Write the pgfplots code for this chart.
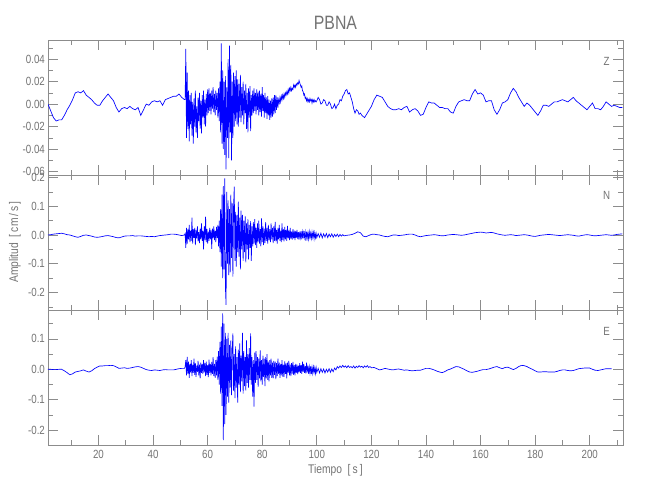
\documentclass[border=0pt]{standalone}
\usepackage{pgfplots}
\pgfplotsset{compat=1.18}
\usepackage{fontspec}
\setmainfont{Liberation Sans}[FakeStretch=0.82]
\definecolor{axgray}{RGB}{140,140,140}
\definecolor{txtgray}{RGB}{115,115,115}
\definecolor{seisblue}{RGB}{0,0,255}
\pgfplotsset{
  seis/.style={
    width=431.25pt, height=101.25pt, scale only axis,
    xmin=1.5, xmax=212.2,
    xtick={20,40,60,80,100,120,140,160,180,200},
    minor xtick={10,30,50,70,90,110,130,150,170,190,210},
    axis line style={axgray, line width=0.5pt},
    every tick/.style={axgray, line width=0.5pt},
    major tick length=7.5pt, minor tick length=3.75pt,
    tick align=inside,
    ticklabel style={font=\fontsize{8.9}{10}\selectfont, text=txtgray},
    /pgf/number format/assume math mode=true,
    yticklabel style={xshift=1.2pt},
    scaled y ticks=false,
  },
  sig/.style={seisblue, line width=0.5pt, mark=none}
}
\begin{document}
\begin{tikzpicture}
\useasboundingbox (0,0) rectangle (487.5pt,-375pt);
% ---------------- Z ----------------
\begin{axis}[seis, at={(36pt,-30pt)}, anchor=north west,
  ymin=-0.063, ymax=0.057,
  ytick={-0.06,-0.04,-0.02,0,0.02,0.04},
  minor ytick={-0.05,-0.03,-0.01,0.01,0.03,0.05},
  yticklabel style={/pgf/number format/.cd,fixed,fixed zerofill,precision=2},
  xticklabels={}]
\addplot[sig] coordinates {
(1.5,0.000)(2.5,-0.006)(3.5,-0.012)(4.5,-0.015)(5.5,-0.014)(6.5,-0.014)(7.5,-0.010)(8.5,-0.005)(9.5,-0.001)(10.5,0.004)
(11.5,0.010)(12.5,0.011)(13.5,0.010)(14.5,0.012)(15.5,0.008)(16.5,0.006)(17.5,0.004)(18.5,0.001)(19.5,-0.001)(20.5,-0.001)
(21.5,0.003)(22.5,0.006)(23.5,0.009)(24.5,0.006)(25.5,0.003)(26.5,-0.003)(27.5,-0.007)(28.5,-0.004)(29.5,-0.003)(30.5,-0.004)
(31.5,-0.002)(32.5,-0.004)(33.5,-0.005)(34.5,-0.003)(35.5,-0.010)(36.5,-0.005)(37.5,0.000)(38.5,-0.001)(39.5,0.002)(40.5,0.003)
(41.5,0.002)(42.5,0.003)(43.5,-0.001)(44.5,0.004)(45.5,0.005)(46.5,0.006)(47.5,0.007)(48.5,0.007)(49.5,0.009)(50.5,0.006)(51.5,0.004)
(51.75,0.004)(52,0.049)(52.25,-0.030)(52.5,0.028)(52.75,-0.022)(53,0.012)(53.25,-0.033)(53.5,0.008)(53.75,-0.018)
(54,0.010)(54.25,-0.028)(54.5,0.002)(54.75,-0.035)(55,0.005)(55.25,-0.020)(55.5,0.012)(55.75,-0.025)
(56,-0.002)(56.25,-0.030)(56.5,0.006)(56.75,-0.015)(57,0.010)(57.25,-0.022)(57.5,0.003)(57.75,-0.026)
(58,0.008)(58.25,-0.012)(58.5,0.012)(58.75,-0.018)(59,0.004)(59.25,-0.020)(59.5,0.009)(59.75,-0.010)
(60,0.013)(60.25,-0.008)(60.5,0.014)(60.75,-0.006)(61,0.010)(61.25,-0.009)(61.5,0.012)(61.75,-0.004)
(62,0.015)(62.25,-0.007)(62.5,0.009)(62.75,-0.010)(63,0.012)(63.25,-0.005)(63.5,0.010)(63.75,-0.012)
(64,0.014)(64.25,-0.015)(64.5,0.020)(64.75,-0.025)(65,0.054)(65.25,-0.035)(65.5,0.030)(65.75,-0.040)
(66,0.020)(66.25,-0.045)(66.5,0.025)(66.75,-0.058)(67,0.015)(67.25,-0.030)(67.5,0.040)(67.75,-0.048)
(68,0.052)(68.25,-0.025)(68.5,0.035)(68.75,-0.050)(69,0.020)(69.25,-0.030)(69.5,0.028)(69.75,-0.020)
(70,0.025)(70.25,-0.015)(70.5,0.030)(70.75,-0.018)(71,0.022)(71.25,-0.020)(71.5,0.018)(71.75,-0.012)
(72,0.026)(72.25,-0.016)(72.5,0.015)(72.75,-0.010)(73,0.020)(73.25,-0.018)(73.5,0.012)(73.75,-0.008)
(74,0.018)(74.25,-0.022)(74.5,0.010)(74.75,-0.025)(75,0.014)(75.25,-0.012)(75.5,0.016)(75.75,-0.024)
(76,0.008)(76.25,-0.010)(76.5,0.012)(76.75,-0.008)(77,0.014)(77.25,-0.006)(77.5,0.010)(77.75,-0.009)
(78,0.013)(78.25,-0.005)(78.5,0.011)(78.75,-0.010)(79,0.012)(79.25,-0.007)(79.5,0.009)(79.75,-0.011)
(80,0.015)(80.25,-0.006)(80.5,0.008)(80.75,-0.012)(81,0.010)(81.25,-0.008)(81.5,0.006)(81.75,-0.013)
(82,0.007)(82.25,-0.010)(82.5,0.004)(82.75,-0.014)(83,0.003)(83.25,-0.012)(83.5,0.005)(83.75,-0.011)
(84,0.006)(84.25,-0.009)(84.5,0.008)(84.75,-0.008)(85,0.008)(85.25,-0.005)(85.5,0.006)(85.75,-0.003)
(86,0.004)(86.25,0.001)(86.5,0.006)(86.75,0.002)(87,0.007)(87.25,0.004)(87.5,0.008)(87.75,0.005)
(88,0.009)(88.25,0.006)(88.5,0.010)(88.75,0.008)(89,0.011)(89.25,0.009)(89.5,0.013)(89.75,0.010)
(90,0.014)(90.25,0.012)(90.5,0.015)(90.75,0.012)(91,0.014)(91.25,0.013)(91.5,0.017)(91.75,0.015)
(92,0.017)(92.25,0.015)(92.5,0.018)(92.75,0.017)(93,0.019)(93.25,0.018)(93.5,0.021)(93.75,0.019)
(94,0.017)(94.25,0.015)(94.5,0.016)(94.75,0.012)(95,0.011)(95.25,0.008)(95.5,0.009)(95.75,0.005)
(96,0.006)(96.25,0.003)(96.5,0.005)(96.75,0.002)(97,0.004)(97.25,0.002)(97.5,0.005)(97.75,0.003)
(98,0.004)(98.25,0.001)(98.5,0.004)(98.75,0.002)(99,0.004)(99.25,0.002)(99.5,0.003)(99.75,0.002)(100,0.003)
(100.5,0.006)(101,0.004)(101.5,0.000)(102,0.001)(102.5,0.004)(103,0.003)(103.5,-0.001)(104,-0.001)(104.5,0.002)(105,0.000)
(105.5,-0.004)(106,-0.003)(106.5,0.000)(107,-0.004)(107.5,-0.001)(108,0.000)(108.5,0.004)(109,0.003)(109.5,0.007)(110,0.009)
(110.5,0.012)(111,0.013)(111.5,0.009)(112,0.010)(112.5,0.006)(113,0.002)(113.5,-0.004)(114,-0.008)(114.5,-0.005)(115,-0.006)
(115.5,-0.009)(116,-0.008)(116.5,-0.010)(117,-0.011)(117.5,-0.012)(118,-0.010)(118.5,-0.008)(119,-0.006)(119.5,-0.004)(120,-0.002)
(121,0.004)(122,0.008)(123,0.007)(124,0.006)(125,0.002)(126,-0.002)(127,-0.004)(128,-0.005)(129,-0.005)(130,-0.004)
(131,-0.005)(132,-0.003)(133,-0.002)(134,-0.007)(135,-0.005)(136,-0.004)(137,-0.006)(138,-0.010)(139,-0.009)(140,-0.003)
(141,0.002)(142,0.001)(143,0.001)(144,-0.001)(145,-0.003)(146,-0.003)(147,-0.004)(148,-0.004)(149,-0.007)(150,-0.008)
(151,-0.002)(152,0.002)(153,0.003)(154,0.004)(155,0.003)(156,0.003)(157,0.009)(158,0.013)(159,0.009)(160,0.010)
(161,0.008)(162,0.002)(163,0.003)(164,0.003)(165,-0.005)(166,-0.009)(167,-0.005)(168,0.001)(169,0.002)(170,0.004)
(171,0.010)(172,0.014)(173,0.011)(174,0.006)(175,0.002)(176,-0.002)(177,0.001)(178,-0.001)(179,-0.004)(180,-0.007)
(181,-0.010)(182,-0.006)(183,-0.001)(184,-0.001)(185,-0.002)(186,0.000)(187,0.002)(188,0.002)(189,0.003)(190,0.004)
(191,0.003)(192,0.002)(193,0.004)(194,0.006)(195,0.003)(196,0.001)(197,-0.001)(198,-0.003)(199,-0.005)(200,-0.002)
(201,0.001)(202,-0.004)(203,-0.004)(204,-0.005)(205,-0.002)(206,0.002)(207,0.000)(208,-0.002)(209,-0.001)(210,-0.002)
(211,-0.003)(212,-0.003)
};
\end{axis}
% ---------------- N ----------------
\begin{axis}[seis, at={(36pt,-131.25pt)}, anchor=north west,
  ymin=-0.261, ymax=0.2087,
  ytick={-0.2,-0.1,0,0.1,0.2},
  minor ytick={-0.25,-0.15,-0.05,0.05,0.15},
  yticklabel style={/pgf/number format/.cd,fixed,fixed zerofill,precision=1},
  xticklabels={}]
\addplot[sig] coordinates {
(1.5,0.000)(2.5,0.001)(3.5,0.003)(4.5,0.004)(5.5,0.005)(6.5,0.006)(7.5,0.004)(8.5,0.001)(9.5,0.000)(10.5,-0.003)
(11.5,-0.006)(12.5,-0.008)(13.5,-0.005)(14.5,-0.001)(15.5,0.000)(16.5,-0.002)(17.5,-0.004)(18.5,-0.007)(19.5,-0.008)(20.5,-0.007)
(21.5,-0.005)(22.5,-0.003)(23.5,-0.002)(24.5,-0.004)(25.5,-0.006)(26.5,-0.009)(27.5,-0.010)(28.5,-0.007)(29.5,-0.004)(30.5,-0.003)
(31.5,-0.003)(32.5,-0.002)(33.5,-0.004)(34.5,-0.003)(35.5,-0.003)(36.5,-0.004)(37.5,-0.005)(38.5,-0.006)(39.5,-0.005)(40.5,-0.006)
(41.5,-0.004)(42.5,-0.002)(43.5,-0.001)(44.5,0.000)(45.5,0.001)(46.5,0.003)(47.5,0.003)(48.5,0.002)(49.5,0.000)(50.5,-0.002)(51.5,0.000)
(51.75,0.005)(52,-0.045)(52.25,0.025)(52.5,-0.030)(52.75,0.020)(53,-0.015)(53.25,0.035)(53.5,-0.025)(53.75,0.015)
(54,-0.020)(54.25,0.060)(54.5,-0.030)(54.75,0.020)(55,-0.010)(55.25,0.025)(55.5,-0.035)(55.75,0.018)
(56,-0.012)(56.25,0.030)(56.5,-0.022)(56.75,0.010)(57,-0.028)(57.25,0.022)(57.5,-0.015)(57.75,0.040)
(58,-0.020)(58.25,0.015)(58.5,-0.050)(58.75,0.030)(59,-0.018)(59.25,0.064)(59.5,-0.025)(59.75,0.020)
(60,-0.030)(60.25,0.012)(60.5,-0.020)(60.75,0.025)(61,-0.015)(61.25,0.018)(61.5,-0.048)(61.75,0.022)
(62,-0.012)(62.25,0.030)(62.5,-0.018)(62.75,0.015)(63,-0.025)(63.25,0.028)(63.5,-0.010)(63.75,0.035)
(64,-0.040)(64.25,0.050)(64.5,-0.060)(64.75,0.090)(65,-0.110)(65.25,0.140)(65.5,-0.150)(65.75,0.170)
(66,-0.120)(66.25,0.197)(66.5,-0.180)(66.75,-0.243)(67,0.150)(67.25,-0.100)(67.5,0.120)(67.75,-0.140)
(68,0.090)(68.25,-0.130)(68.5,0.140)(68.75,-0.080)(69,0.110)(69.25,-0.145)(69.5,0.100)(69.75,0.168)
(70,-0.090)(70.25,0.080)(70.5,-0.110)(70.75,0.070)(71,-0.060)(71.25,0.116)(71.5,-0.075)(71.75,0.060)
(72,-0.120)(72.25,0.085)(72.5,-0.050)(72.75,0.070)(73,-0.090)(73.25,0.050)(73.5,-0.060)(73.75,0.065)
(74,-0.095)(74.25,0.040)(74.5,-0.050)(74.75,0.055)(75,-0.085)(75.25,0.035)(75.5,-0.045)(75.75,0.048)
(76,-0.090)(76.25,0.030)(76.5,-0.040)(76.75,0.045)(77,-0.030)(77.25,0.055)(77.5,-0.035)(77.75,0.025)
(78,-0.045)(78.25,0.040)(78.5,-0.025)(78.75,0.050)(79,-0.030)(79.25,0.020)(79.5,-0.040)(79.75,0.058)
(80,-0.025)(80.25,0.030)(80.5,-0.035)(80.75,0.022)(81,-0.028)(81.25,0.045)(81.5,-0.020)(81.75,0.025)
(82,-0.030)(82.25,0.035)(82.5,-0.018)(82.75,0.020)(83,-0.025)(83.25,0.040)(83.5,-0.015)(83.75,0.025)
(84,-0.028)(84.25,0.030)(84.5,-0.020)(84.75,0.046)(85,-0.022)(85.25,0.018)(85.5,-0.030)(85.75,0.025)
(86,-0.015)(86.25,0.035)(86.5,-0.020)(86.75,0.015)(87,-0.025)(87.25,0.040)(87.5,-0.018)(87.75,0.020)
(88,-0.022)(88.25,0.028)(88.5,-0.015)(88.75,0.018)(89,-0.020)(89.25,0.032)(89.5,-0.012)(89.75,0.015)
(90,-0.018)(90.25,0.025)(90.5,-0.014)(90.75,0.012)(91,-0.016)(91.25,0.020)(91.5,-0.012)(91.75,0.015)
(92,-0.018)(92.25,0.014)(92.5,-0.010)(92.75,0.018)(93,-0.014)(93.25,0.010)(93.5,-0.016)(93.75,0.012)
(94,-0.009)(94.25,0.014)(94.5,-0.015)(94.75,0.010)(95,-0.012)(95.25,0.015)(95.5,-0.008)(95.75,0.010)
(96,-0.020)(96.25,0.012)(96.5,-0.010)(96.75,0.008)(97,-0.014)(97.25,0.011)(97.5,-0.009)(97.75,0.007)
(98,-0.012)(98.25,0.010)(98.5,-0.008)(98.75,0.009)(99,-0.013)(99.25,0.008)(99.5,-0.010)(99.75,0.006)(100,-0.009)
(100.5,0.005)(101,-0.008)(101.5,0.006)(102,-0.010)(102.5,0.004)(103,-0.007)(103.5,0.005)(104,-0.009)(104.5,0.003)(105,-0.006)
(105.5,0.004)(106,-0.008)(106.5,0.002)(107,-0.005)(107.5,0.003)(108,-0.006)(108.5,0.002)(109,-0.004)(109.5,0.001)(110,-0.003)
(111,-0.001)(112,0.000)(113,0.002)(114,0.006)(115,0.011)(116,0.008)(117,-0.004)(118,-0.006)(119,-0.002)(120,0.002)
(121,0.003)(122,0.001)(123,0.000)(124,-0.003)(125,-0.005)(126,-0.006)(127,-0.003)(128,0.000)(129,0.000)(130,-0.002)
(131,-0.001)(132,0.000)(133,0.002)(134,0.003)(135,0.003)(136,0.000)(137,-0.004)(138,-0.006)(139,-0.004)(140,-0.002)
(141,-0.001)(142,0.000)(143,0.001)(144,0.000)(145,-0.002)(146,-0.003)(147,-0.002)(148,0.000)(149,0.001)(150,0.002)
(151,0.001)(152,0.000)(153,-0.001)(154,0.000)(155,0.002)(156,0.004)(157,0.006)(158,0.008)(159,0.009)(160,0.010)
(161,0.009)(162,0.007)(163,0.008)(164,0.009)(165,0.007)(166,0.004)(167,0.002)(168,0.000)(169,-0.001)(170,0.000)
(171,0.001)(172,0.000)(173,-0.002)(174,-0.001)(175,0.000)(176,0.001)(177,0.000)(178,-0.002)(179,-0.004)(180,-0.005)
(181,-0.003)(182,-0.001)(183,0.000)(184,0.001)(185,0.002)(186,0.001)(187,0.000)(188,-0.001)(189,-0.002)(190,-0.001)
(191,0.000)(192,0.001)(193,0.000)(194,-0.001)(195,-0.003)(196,-0.004)(197,-0.002)(198,0.000)(199,0.001)(200,0.000)
(201,-0.002)(202,-0.003)(203,-0.002)(204,-0.001)(205,0.000)(206,0.001)(207,0.000)(208,-0.001)(209,0.000)(210,0.002)
(211,0.003)(212,0.004)
};
\end{axis}
% ---------------- E ----------------
\begin{axis}[seis, at={(36pt,-232.5pt)}, anchor=north west,
  ymin=-0.249, ymax=0.195,
  ytick={-0.2,-0.1,0,0.1},
  minor ytick={-0.15,-0.05,0.05,0.15},
  yticklabel style={/pgf/number format/.cd,fixed,fixed zerofill,precision=1}]
\addplot[sig] coordinates {
(1.5,0.000)(2.5,0.000)(3.5,-0.001)(4.5,-0.001)(5.5,0.000)(6.5,0.000)(7.5,-0.005)(8.5,-0.011)(9.5,-0.018)(10.5,-0.015)
(11.5,-0.009)(12.5,-0.007)(13.5,-0.005)(14.5,-0.002)(15.5,-0.006)(16.5,-0.009)(17.5,-0.005)(18.5,0.002)(19.5,0.007)(20.5,0.011)
(21.5,0.011)(22.5,0.012)(23.5,0.012)(24.5,0.013)(25.5,0.012)(26.5,0.008)(27.5,0.003)(28.5,0.004)(29.5,0.005)(30.5,0.003)
(31.5,0.004)(32.5,0.006)(33.5,0.008)(34.5,0.009)(35.5,0.007)(36.5,0.003)(37.5,-0.001)(38.5,-0.003)(39.5,-0.004)(40.5,-0.002)
(41.5,-0.003)(42.5,-0.004)(43.5,-0.002)(44.5,-0.001)(45.5,-0.002)(46.5,-0.002)(47.5,-0.002)(48.5,0.000)(49.5,0.002)(50.5,0.003)(51.5,0.003)
(51.75,0.008)(52,0.030)(52.25,-0.020)(52.5,0.041)(52.75,-0.015)(53,0.025)(53.25,-0.028)(53.5,0.018)(53.75,-0.010)
(54,0.030)(54.25,-0.022)(54.5,0.015)(54.75,-0.012)(55,0.035)(55.25,-0.018)(55.5,0.020)(55.75,-0.025)
(56,0.012)(56.25,-0.008)(56.5,0.028)(56.75,-0.020)(57,0.015)(57.25,-0.030)(57.5,0.022)(57.75,-0.012)
(58,0.018)(58.25,-0.015)(58.5,0.030)(58.75,-0.010)(59,0.020)(59.25,-0.022)(59.5,0.025)(59.75,-0.018)
(60,0.014)(60.25,-0.026)(60.5,0.032)(60.75,-0.012)(61,0.018)(61.25,-0.020)(61.5,0.024)(61.75,-0.015)
(62,0.040)(62.25,-0.022)(62.5,0.018)(62.75,-0.028)(63,0.030)(63.25,-0.020)(63.5,0.042)(63.75,-0.035)
(64,0.060)(64.25,-0.050)(64.5,0.090)(64.75,-0.080)(65,0.140)(65.25,-0.120)(65.5,0.184)(65.75,-0.233)
(66,0.150)(66.25,-0.180)(66.5,0.120)(66.75,-0.150)(67,0.100)(67.25,-0.090)(67.5,0.120)(67.75,-0.110)
(68,0.080)(68.25,-0.060)(68.5,0.095)(68.75,-0.085)(69,0.060)(69.25,0.118)(69.5,-0.070)(69.75,0.050)
(70,-0.095)(70.25,0.075)(70.5,-0.060)(70.75,0.040)(71,-0.110)(71.25,0.065)(71.5,-0.050)(71.75,0.085)
(72,-0.075)(72.25,0.045)(72.5,-0.040)(72.75,0.120)(73,-0.080)(73.25,0.060)(73.5,-0.055)(73.75,0.040)
(74,-0.070)(74.25,0.095)(74.5,-0.045)(74.75,0.050)(75,-0.060)(75.25,0.070)(75.5,-0.035)(75.75,0.118)
(76,-0.050)(76.25,0.040)(76.5,-0.090)(76.75,0.030)(77,-0.123)(77.25,0.055)(77.5,-0.045)(77.75,0.060)
(78,-0.035)(78.25,0.040)(78.5,-0.058)(78.75,0.035)(79,-0.030)(79.25,0.062)(79.5,-0.040)(79.75,0.030)
(80,-0.050)(80.25,0.045)(80.5,-0.025)(80.75,0.035)(81,-0.055)(81.25,0.040)(81.5,-0.030)(81.75,0.050)
(82,-0.035)(82.25,0.025)(82.5,-0.040)(82.75,0.030)(83,-0.020)(83.25,0.035)(83.5,-0.028)(83.75,0.022)
(84,-0.030)(84.25,0.028)(84.5,-0.018)(84.75,0.025)(85,-0.032)(85.25,0.020)(85.5,-0.022)(85.75,0.035)
(86,-0.015)(86.25,0.022)(86.5,-0.028)(86.75,0.018)(87,-0.020)(87.25,0.030)(87.5,-0.024)(87.75,0.015)
(88,-0.025)(88.25,0.026)(88.5,-0.015)(88.75,0.020)(89,-0.030)(89.25,0.022)(89.5,-0.012)(89.75,0.028)
(90,-0.020)(90.25,0.015)(90.5,-0.022)(90.75,0.020)(91,-0.014)(91.25,0.024)(91.5,-0.018)(91.75,0.014)
(92,-0.020)(92.25,0.018)(92.5,-0.012)(92.75,0.015)(93,-0.016)(93.25,0.012)(93.5,-0.010)(93.75,0.020)
(94,-0.012)(94.25,0.014)(94.5,-0.015)(94.75,0.025)(95,-0.008)(95.25,0.018)(95.5,-0.012)(95.75,0.010)
(96,-0.014)(96.25,0.022)(96.5,-0.010)(96.75,0.012)(97,-0.015)(97.25,0.008)(97.5,-0.012)(97.75,0.010)
(98,-0.016)(98.25,0.006)(98.5,-0.013)(98.75,0.008)(99,-0.010)(99.25,0.005)(99.5,-0.014)(99.75,0.006)(100,-0.010)
(100.5,0.003)(101,-0.012)(101.5,0.002)(102,-0.010)(102.5,0.001)(103,-0.012)(103.5,0.000)(104,-0.009)(104.5,0.002)(105,-0.010)
(105.5,0.001)(106,-0.008)(106.5,0.004)(107,-0.002)(107.5,0.009)(108,0.004)(108.5,0.011)(109,0.006)(109.5,0.013)(110,0.007)
(110.5,0.011)(111,0.005)(111.5,0.012)(112,0.006)(112.5,0.009)(113,0.005)(113.5,0.011)(114,0.004)(114.5,0.010)(115,0.006)
(115.5,0.012)(116,0.007)(116.5,0.010)(117,0.005)(117.5,0.011)(118,0.007)(118.5,0.012)(119,0.006)(119.5,0.009)(120,0.005)
(121,0.006)(122,0.002)(123,-0.002)(124,0.000)(125,0.003)(126,0.001)(127,-0.001)(128,-0.002)(129,0.000)(130,0.001)
(131,-0.001)(132,-0.003)(133,-0.002)(134,-0.004)(135,-0.005)(136,-0.004)(137,-0.003)(138,-0.003)(139,0.000)(140,0.003)
(141,0.003)(142,0.001)(143,-0.002)(144,-0.006)(145,-0.009)(146,-0.011)(147,-0.007)(148,-0.002)(149,0.001)(150,0.005)
(151,0.009)(152,0.008)(153,0.004)(154,0.000)(155,-0.005)(156,-0.009)(157,-0.010)(158,-0.008)(159,-0.006)(160,-0.003)
(161,-0.001)(162,-0.001)(163,0.001)(164,0.004)(165,0.007)(166,0.009)(167,0.005)(168,0.002)(169,0.006)(170,0.007)
(171,0.003)(172,-0.001)(173,0.003)(174,0.009)(175,0.013)(176,0.012)(177,0.009)(178,0.004)(179,0.000)(180,-0.005)
(181,-0.009)(182,-0.009)(183,-0.008)(184,-0.008)(185,-0.009)(186,-0.009)(187,-0.009)(188,-0.007)(189,-0.004)(190,-0.002)
(191,-0.002)(192,-0.004)(193,-0.005)(194,-0.004)(195,-0.001)(196,0.002)(197,0.003)(198,0.004)(199,0.004)(200,0.004)
(201,0.000)(202,-0.003)(203,-0.004)(204,-0.002)(205,0.000)(206,0.002)(207,0.002)(208,0.002)
};
\end{axis}
% ---------------- texts ----------------
\node[text=txtgray, font=\fontsize{14.5}{16}\selectfont] at (251.6pt,-17.25pt) {PBNA};
\node[text=txtgray, font=\fontsize{8.9}{10}\selectfont] at (455pt,-46.3pt) {Z};
\node[text=txtgray, font=\fontsize{8.9}{10}\selectfont] at (455pt,-146.3pt) {N};
\node[text=txtgray, font=\fontsize{8.9}{10}\selectfont] at (455pt,-248.8pt) {E};
\node[text=txtgray, font=\fontsize{9.4}{10}\selectfont, rotate=90] at (11.25pt,-181.5pt) {Amplitud\hspace{0.45em}[\,cm\,/\,s\,]};
\node[text=txtgray, font=\fontsize{9.4}{10}\selectfont] at (251.6pt,-352.5pt) {Tiempo\hspace{0.45em}[\,s\,]};
\end{tikzpicture}
\end{document}
